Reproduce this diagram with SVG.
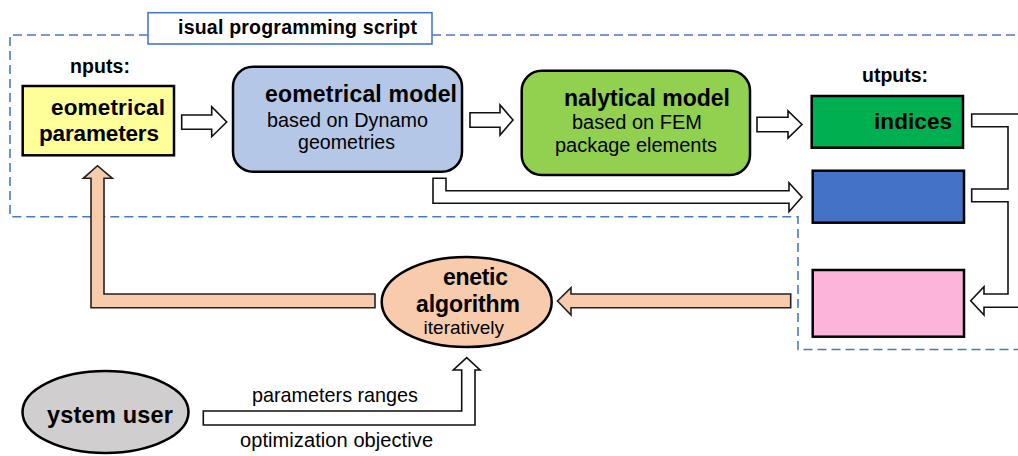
<svg xmlns="http://www.w3.org/2000/svg" width="1018" height="456" viewBox="0 0 1018 456">
<style>
text{font-family:"Liberation Sans",Arial,sans-serif;fill:#000}
.b{font-weight:bold}
.box{stroke:#000;stroke-width:2.5}
.dash{fill:none;stroke:#4a78c8;stroke-width:1.6;stroke-dasharray:9 5}
.ha{fill:#fff;stroke:#111;stroke-width:1.6;stroke-linejoin:miter}
.pa{fill:#f8cbad;stroke:#222;stroke-width:1.6}
</style>
<rect width="1018" height="456" fill="#fff"/>
<g id="script-frame">
<path class="dash" d="M148,35 H10 V216.7 H798 V349.5 H1018"/>
<path class="dash" d="M432,35 H1018"/>
<rect x="148" y="12.7" width="284" height="31.3" fill="#fff" stroke="#4a78c8" stroke-width="1.6"/>
<text class="b" x="178" y="34" font-size="19.5" textLength="239">isual programming script</text>
</g>
<g id="labels">
<text class="b" x="70" y="73" font-size="19.5" textLength="60">nputs:</text>
<text class="b" x="862" y="82" font-size="19.5" textLength="66">utputs:</text>
</g>
<g id="connectors">
<path class="ha" d="M181.7,115 H211.7 V106.7 L226.7,122 L211.7,136.7 V129.3 H181.7 Z"/>
<path class="ha" d="M470,112.7 H500 V105 L513,120 L500,135 V127.3 H470 Z"/>
<path class="ha" d="M757,117.3 H788 V111 L802,124.5 L788,138 V131.7 H757 Z"/>
<path class="ha" d="M433,178.3 H446 V190.7 H789 V182.7 L802,197 L789,211.7 V203.3 H433 Z"/>
<path class="ha" style="fill:none" d="M1018,114 H971.7 V126.7 H1008 V189 H971.7 V201.7 H1008 V294 H984 V286.7 L970.7,300.7 L984,315 V307.3 H1018"/>
<path class="pa" d="M790.7,294 H571 V287.7 L557.5,301 L571,315 V307.7 H790.7 Z"/>
<path class="pa" d="M375,294 H104 V178.3 H112.3 L97.5,165.7 L83.3,178.3 H91 V307.7 H375 Z"/>
<path class="ha" d="M203.3,411 H461.7 V370 H453.3 L466.7,357.7 L480,370 H475 V425 H203.3 Z"/>
<text x="252" y="401.5" font-size="19.8" textLength="166">parameters ranges</text>
<text x="240" y="446.5" font-size="20" textLength="193">optimization objective</text>
</g>
<g id="geometrical-parameters">
<rect class="box" x="22.7" y="86" width="151.3" height="69.3" fill="#ffff99"/>
<text class="b" x="51" y="115" font-size="22.5" textLength="114">eometrical</text>
<text class="b" x="39" y="141" font-size="22.5" textLength="120">parameters</text>
</g>
<g id="geometrical-model">
<rect class="box" x="233" y="66.7" width="229" height="105" rx="20" fill="#b4c7e7"/>
<text class="b" x="265" y="101.5" font-size="23" textLength="192">eometrical model</text>
<text x="267" y="126.5" font-size="19.8" textLength="161">based on Dynamo</text>
<text x="298" y="149" font-size="19.6" textLength="97">geometries</text>
</g>
<g id="analytical-model">
<rect class="box" x="521.7" y="70.7" width="228.3" height="104.3" rx="20" fill="#92d050"/>
<text class="b" x="564" y="106" font-size="23" textLength="166">nalytical model</text>
<text x="572" y="129" font-size="20" textLength="130">based on FEM</text>
<text x="555" y="152" font-size="20" textLength="162">package elements</text>
</g>
<g id="indices">
<rect class="box" x="811.7" y="96" width="151.3" height="51.7" fill="#00b050"/>
<text class="b" x="874" y="129" font-size="22.5" textLength="78">indices</text>
</g>
<g id="output-blue">
<rect class="box" x="812.7" y="170.7" width="151.3" height="52" fill="#4472c4"/>
</g>
<g id="output-pink">
<rect class="box" x="812.7" y="270" width="151.3" height="66.7" fill="#fcb4da"/>
</g>
<g id="genetic-algorithm">
<ellipse class="box" cx="466.7" cy="302" rx="85" ry="45" fill="#f8cbad"/>
<text class="b" x="443" y="285" font-size="23" textLength="65">enetic</text>
<text class="b" x="416" y="312" font-size="23" textLength="104">algorithm</text>
<text x="423.5" y="334" font-size="19" textLength="80.5">iteratively</text>
</g>
<g id="system-user">
<ellipse class="box" cx="105.5" cy="412" rx="83" ry="41" fill="#d0cece"/>
<text class="b" x="47" y="423" font-size="23.5" textLength="126">ystem user</text>
</g>
</svg>
